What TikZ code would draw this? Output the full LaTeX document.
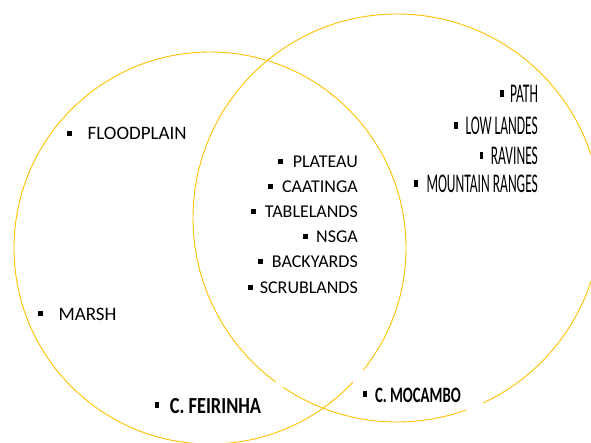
\documentclass[tikz,border=0pt]{standalone}
\usepackage{fontspec}
\setmainfont{Carlito}
\usetikzlibrary{positioning}
\definecolor{ringgold}{HTML}{FFC000}
\newcommand{\sqb}{\rule[0.22em]{0.26em}{0.26em}}
\tikzset{
  ring/.style={circle, draw=ringgold, line width=0.9pt, inner sep=0pt},
  leftitem/.style={inner sep=0pt, anchor=base west, font=\fontsize{19}{19}\selectfont},
  miditem/.style={inner sep=0pt, anchor=base east, font=\fontsize{18}{18}\selectfont},
  rightitem/.style={inner sep=0pt, anchor=base east, xscale=.5, font=\fontsize{27}{27}\selectfont},
  village/.style={inner sep=0pt, anchor=base west, font=\bfseries\fontsize{23}{23}\selectfont},
}

\begin{document}
\begin{tikzpicture}[x=1pt,y=-1pt]
        \useasboundingbox (0,0) rectangle (591,443);

        \node[ring, minimum size=392pt] (leftring) at (210,248) {};
        \node[ring, minimum size=408pt] (rightring) at (397,218) {};

        % white text boxes over the rings
        \fill[white] (145,382) rectangle (283,424);
        \fill[white] (353,370) rectangle (483,410);

        \node[leftitem] (floodplain) at (66.5,140) {\sqb\hspace{16pt}FLOODPLAIN};
        \node[leftitem] (marsh) at (37.5,320) {\sqb\hspace{16pt}MARSH};

        \node[miditem] (plateau) at (358,168) {\sqb\hspace{10pt}PLATEAU};
        \node[miditem] (caatinga) at (358,193) {\sqb\hspace{9pt}CAATINGA};
        \node[miditem] (tablelands) at (358,218) {\sqb\hspace{9pt}TABLELANDS};
        \node[miditem] (nsga) at (358,243) {\sqb\hspace{8pt}NSGA};
        \node[miditem] (backyards) at (358,268) {\sqb\hspace{9pt}BACKYARDS};
        \node[miditem] (scrublands) at (358,294) {\sqb\hspace{7pt}SCRUBLANDS};

        \node[rightitem] (path) at (538,103) {\sqb\hspace{13pt}PATH};
        \node[rightitem] (lowlandes) at (538,135) {\sqb\hspace{15pt}LOW LANDES};
        \node[rightitem] (ravines) at (538,165) {\sqb\hspace{15pt}RAVINES};
        \node[rightitem] (mountains) at (538,193) {\sqb\hspace{18pt}MOUNTAIN RANGES};

        \node[village, xscale=.8] (feirinha) at (154.5,413) {\sqb\hspace{13pt}C. FEIRINHA};
        \node[village, font=\bfseries\fontsize{22}{22}\selectfont, xscale=.67] (mocambo) at (363,402) {\sqb\hspace{12pt}C. MOCAMBO};
\end{tikzpicture}
\end{document}
